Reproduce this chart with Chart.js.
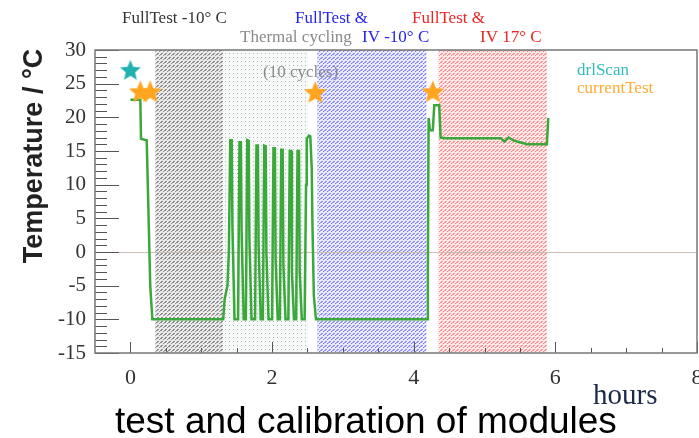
<!DOCTYPE html>
<html>
<head>
<meta charset="utf-8">
<script src="https://cdn.jsdelivr.net/npm/chart.js@4.4.0/dist/chart.umd.min.js"></script>
<style>
html, body { margin: 0; padding: 0; background: #fff; }
#wrap { width: 699px; height: 438px; position: relative; }
</style>
</head>
<body>
<div id="wrap"><canvas id="tempChart" width="699" height="438"></canvas></div>
<script>
// temperature log, time in hours, temperature in deg C
const timeH = [0.00, 0.14, 0.15, 0.23, 0.25, 0.28, 0.31, 1.31, 1.33, 1.37, 1.39,
  1.41, 1.43, 1.44, 1.47, 1.52, 1.54, 1.56, 1.57, 1.60, 1.63, 1.65, 1.67, 1.68, 1.71,
  1.76, 1.78, 1.80, 1.81, 1.84, 1.87, 1.89, 1.91, 1.92, 1.95, 2.00, 2.02, 2.04, 2.05, 2.08,
  2.11, 2.13, 2.15, 2.16, 2.19, 2.23, 2.25, 2.27, 2.28, 2.31, 2.34, 2.36, 2.38, 2.39, 2.42,
  2.46, 2.48, 2.49, 2.52, 2.54, 2.56, 2.57, 2.59, 2.62, 4.19, 4.20, 4.21, 4.23, 4.27, 4.29,
  4.36, 4.38, 4.45, 5.23, 5.28, 5.34, 5.40, 5.46, 5.60, 5.88, 5.90];
const tempC = [22.6, 22.6, 16.8, 16.6, 8.0, -5.0, -10.0, -10.0, -7.0, -5.0, 0.0,
  16.6, 16.6, 4.0, -10.0, -10.0, 16.3, 16.3, 3.0, -10.0, -10.0, 16.6, 16.5, 2.0, -10.0,
  -10.0, 15.8, 15.8, 1.0, -10.0, -10.0, 15.8, 15.7, 0.0, -10.0, -10.0, 15.4, 15.4, -1.0, -10.0,
  -10.0, 15.2, 15.2, -2.0, -10.0, -10.0, 15.0, 15.0, -3.0, -10.0, -10.0, 15.0, 15.0, -3.0, -10.0,
  -10.0, 10.0, 16.8, 17.3, 17.2, 12.5, 4.3, -6.5, -10.0, -10.0, -3.0, 19.9, 18.1, 18.1, 21.8,
  21.8, 17.0, 16.9, 16.9, 16.4, 17.0, 16.6, 16.4, 16.0, 16.0, 19.9];

// markers
const drlScanH = [0.0];
const drlScanT = [26.9];
const currentTestH = [0.14, 0.28, 2.61, 4.27];
const currentTestT = [23.7, 23.7, 23.6, 23.7];

// axis ticks
const xTicks = [0, 2, 4, 6, 8];
const yTicks = [-15, -10, -5, 0, 5, 10, 15, 20, 25, 30];

// shaded test phases (hours)
const phaseStart = [0.35, 1.33, 2.64, 4.35];
const phaseEnd = [1.31, 2.51, 4.18, 5.88];

const serif = '"Liberation Serif", "DejaVu Serif", serif';
const sans = '"Liberation Sans", Arial, sans-serif';

function starImage(color, r) {
    const c = document.createElement('canvas');
    c.width = c.height = Math.ceil(r * 2 + 2);
    const g = c.getContext('2d');
    const cx = c.width / 2, cy = c.height / 2;
    g.beginPath();
    for (let i = 0; i < 10; i++) {
        const rad = i % 2 === 0 ? r : r * 0.45;
        const a = -Math.PI / 2 + i * Math.PI / 5;
        g.lineTo(cx + rad * Math.cos(a), cy + rad * Math.sin(a));
    }
    g.closePath();
    g.fillStyle = color;
    g.fill();
    return c;
}

function hatch(ctx, dash, dot, bg) {
    const c = document.createElement('canvas');
    c.width = 4; c.height = 4;
    const g = c.getContext('2d');
    g.fillStyle = bg;
    g.fillRect(0, 0, 4, 4);
    g.strokeStyle = dash;
    g.lineWidth = 1;
    g.beginPath();
    g.moveTo(0.2, 3.3);
    g.lineTo(2.6, 0.9);
    g.stroke();
    g.fillStyle = dot;
    g.fillRect(3, 3, 1, 1);
    return ctx.createPattern(c, 'repeat');
}

function dots(ctx, dot, bg) {
    const c = document.createElement('canvas');
    c.width = 4; c.height = 4;
    const g = c.getContext('2d');
    g.fillStyle = bg;
    g.fillRect(0, 0, 4, 4);
    g.fillStyle = dot;
    g.fillRect(1, 1, 1, 1);
    return ctx.createPattern(c, 'repeat');
}

const phasePlugin = {
    id: 'phases',
    beforeDraw(chart) {
        const { ctx, chartArea: a, scales: { x } } = chart;
        const fills = [
            hatch(ctx, 'rgba(30,30,30,0.9)', '#999999', '#ededed'),
            dots(ctx, '#a3bab1', '#f7f9f8'),
            hatch(ctx, 'rgba(40,40,245,0.9)', '#7a7aff', '#ececff'),
            hatch(ctx, 'rgba(245,40,40,0.9)', '#ff7a7a', '#ffecec')
        ];
        ctx.save();
        phaseStart.forEach((s, i) => {
            const x0 = x.getPixelForValue(s);
            const x1 = x.getPixelForValue(phaseEnd[i]);
            ctx.fillStyle = fills[i];
            ctx.fillRect(x0, a.top, x1 - x0, a.bottom - a.top);
        });
        ctx.restore();
    }
};

const framePlugin = {
    id: 'frame',
    afterDraw(chart) {
        const { ctx, chartArea: a, scales: { x, y } } = chart;
        ctx.save();
        // inner ticks, ROOT style
        ctx.strokeStyle = '#555';
        ctx.lineWidth = 1;
        ctx.beginPath();
        for (let v = 0; v <= 8; v += 0.5) {
            const px = Math.round(x.getPixelForValue(v)) + 0.5;
            const len = v % 2 === 0 ? 11 : 5;
            ctx.moveTo(px, a.bottom);
            ctx.lineTo(px, a.bottom - len);
        }
        for (let v = -15; v <= 30; v++) {
            const py = Math.round(y.getPixelForValue(v)) + 0.5;
            const len = v % 5 === 0 ? 24 : 12;
            ctx.moveTo(a.left, py);
            ctx.lineTo(a.left + len, py);
        }
        ctx.stroke();
        // frame
        ctx.strokeStyle = '#777';
        ctx.lineWidth = 1.5;
        ctx.strokeRect(a.left, a.top, a.right - a.left, a.bottom - a.top);

        // annotations
        ctx.textAlign = 'left';
        ctx.textBaseline = 'alphabetic';
        ctx.font = '17px ' + serif;
        ctx.fillStyle = '#333';
        ctx.fillText('FullTest -10° C', 122, 23);
        ctx.fillStyle = '#2424ee';
        ctx.fillText('FullTest &', 295, 23);
        ctx.fillText('IV -10° C', 362, 42);
        ctx.fillStyle = '#8a8a8a';
        ctx.fillText('Thermal cycling', 240, 42);
        ctx.fillText('(10 cycles)', 263, 77);
        ctx.fillStyle = '#ee2424';
        ctx.fillText('FullTest &', 412, 23);
        ctx.fillText('IV 17° C', 480, 42);

        // legend
        ctx.fillStyle = '#33bbbb';
        ctx.fillText('drlScan', 577, 75);
        ctx.fillStyle = '#ffaa33';
        ctx.fillText('currentTest', 577, 93);

        // axis titles
        ctx.fillStyle = '#1c2a4a';
        ctx.font = '29px ' + serif;
        ctx.fillText('hours', 593, 404);

        ctx.fillStyle = '#000';
        ctx.font = '37px ' + sans;
        ctx.fillText('test and calibration of modules', 115, 433);

        ctx.translate(33, 156);
        ctx.rotate(-Math.PI / 2);
        ctx.textAlign = 'center';
        ctx.font = 'bold 27px ' + sans;
        ctx.fillStyle = '#222';
        ctx.fillText('Temperature / °C', 0, 9);
        ctx.restore();
    }
};

const ctx = document.getElementById('tempChart').getContext('2d');
new Chart(ctx, {
    type: 'scatter',
    data: {
        datasets: [
            {
                label: 'drlScan',
                data: drlScanH.map((t, i) => ({ x: t, y: drlScanT[i] })),
                pointStyle: starImage('#22b0b0', 11)
            },
            {
                label: 'currentTest',
                data: currentTestH.map((t, i) => ({ x: t, y: currentTestT[i] })),
                pointStyle: starImage('#ffa520', 12)
            },
            {
                label: 'temperature',
                data: timeH.map((t, i) => ({ x: t, y: tempC[i] })),
                showLine: true,
                borderColor: '#3aa83a',
                borderWidth: 2.5,
                pointRadius: 0,
                tension: 0
            }
        ]
    },
    options: {
        responsive: false,
        animation: false,
        devicePixelRatio: 1,
        layout: { autoPadding: false, padding: { left: 0, right: 2, top: 50, bottom: 0 } },
        plugins: { legend: { display: false }, tooltip: { enabled: false } },
        scales: {
            x: {
                type: 'linear',
                min: -0.5,
                max: 8,
                afterBuildTicks: s => { s.ticks = xTicks.map(v => ({ value: v })); },
                afterFit: s => { s.height = 85; s.paddingLeft = 0; s.paddingRight = 0; },
                grid: { display: false, drawTicks: false },
                border: { display: false },
                ticks: { padding: 12, color: '#333', font: { family: serif, size: 22 }, maxRotation: 0 }
            },
            y: {
                min: -15,
                max: 30,
                afterBuildTicks: s => { s.ticks = yTicks.map(v => ({ value: v })); },
                afterFit: s => { s.width = 95; s.paddingTop = 0; s.paddingBottom = 0; },
                grid: {
                    drawTicks: false,
                    color: c => (c.tick && c.tick.value === 0 ? '#cdbfb8' : 'rgba(0,0,0,0)'),
                    lineWidth: 1
                },
                border: { display: false },
                ticks: { padding: 9, color: '#333', font: { family: serif, size: 21 } }
            }
        }
    },
    plugins: [phasePlugin, framePlugin]
});
</script>
</body>
</html>
